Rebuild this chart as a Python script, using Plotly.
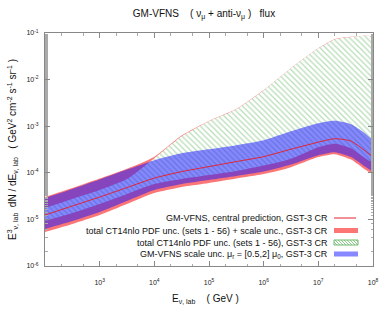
import plotly.graph_objects as go

# ---------------- data ----------------
energy_gev = [1e2, 3.16e2, 1e3, 3.16e3, 1e4, 3.16e4, 1e5, 3.16e5, 1e6, 3.16e6, 1e7, 2.0e7, 3.98e7, 1e8]

central = [1.24e-5, 1.94e-5, 3.02e-5, 4.82e-5, 7.70e-5, 1.06e-4, 1.36e-4, 1.74e-4, 2.22e-4, 3.21e-4, 4.54e-4, 5.40e-4, 4.77e-4, 2.17e-4]

scale_hi = [2.87e-5, 4.48e-5, 7.15e-5, 1.17e-4, 1.87e-4, 2.64e-4, 3.21e-4, 3.92e-4, 5.01e-4, 7.82e-4, 1.16e-3, 1.31e-3, 1.10e-3, 4.77e-4]
scale_lo = [6.23e-6, 9.24e-6, 1.44e-5, 2.48e-5, 4.26e-5, 5.73e-5, 6.98e-5, 8.50e-5, 1.06e-4, 1.50e-4, 2.39e-4, 2.77e-4, 2.17e-4, 1.11e-4]

pdf_hi = [1.75e-5, 2.74e-5, 4.26e-5, 7.33e-5, 2.06e-4, 6.11e-4, 1.28e-3, 2.31e-3, 5.90e-3, 1.75e-2, 4.68e-2, 7.29e-2, 8.25e-2, 8.05e-2]
pdf_lo = [9.24e-6, 1.37e-5, 2.14e-5, 3.50e-5, 5.73e-5, 7.33e-5, 8.93e-5, 1.09e-4, 1.43e-4, 2.01e-4, 3.55e-4, 4.22e-4, 3.38e-4, 1.74e-4]

total_hi = [3.02e-5, 4.70e-5, 7.52e-5, 1.22e-4, 2.22e-4, 6.35e-4, 1.30e-3, 2.33e-3, 5.95e-3, 1.76e-2, 4.70e-2, 7.31e-2, 8.27e-2, 8.07e-2]
total_lo = [5.37e-6, 7.97e-6, 1.24e-5, 2.14e-5, 3.67e-5, 4.94e-5, 6.02e-5, 7.52e-5, 9.38e-5, 1.32e-4, 2.17e-4, 2.51e-4, 1.92e-4, 9.86e-5]

x_tickvals = [1e3, 1e4, 1e5, 1e6, 1e7, 1e8]
x_ticktext = ["10<sup>3</sup>", "10<sup>4</sup>", "10<sup>5</sup>", "10<sup>6</sup>", "10<sup>7</sup>", "10<sup>8</sup>"]
y_tickvals = [1e-6, 1e-5, 1e-4, 1e-3, 1e-2, 1e-1]
y_ticktext = ["10<sup>-6</sup>", "10<sup>-5</sup>", "10<sup>-4</sup>", "10<sup>-3</sup>", "10<sup>-2</sup>", "10<sup>-1</sup>"]

legend_labels = [
    "GM-VFNS, central prediction, GST-3 CR",
    "total CT14nlo PDF unc. (sets 1 - 56) + scale unc., GST-3 CR",
    "total CT14nlo PDF unc. (sets 1 - 56), GST-3 CR",
    "GM-VFNS scale unc. \u03bc<sub>r</sub> = [0.5,2] \u03bc<sub>0</sub>, GST-3 CR",
]

# ---------------- styles ----------------
RED_FILL = "rgb(252,118,118)"
GREEN = "rgb(110,185,110)"
BLUE_FILL = "rgba(25,25,255,0.52)"
LINE_RED = "rgb(225,35,50)"
FONT = "Liberation Sans, Arial, sans-serif"
W, H = 390, 312
ML, MR, MT, MB = 45, 17, 33, 46
PW, PH = W - ML - MR, H - MT - MB


def band(lo, hi):
    xs = list(energy_gev) + list(energy_gev)[::-1]
    ys = list(hi) + list(lo)[::-1]
    return xs, ys


fig = go.Figure()

xs, ys = band(total_lo, total_hi)
fig.add_trace(go.Scatter(x=xs, y=ys, fill="toself", fillcolor=RED_FILL, mode="lines",
                         line=dict(width=0, shape="spline", smoothing=0.6), hoverinfo="skip", showlegend=False))

xs, ys = band(pdf_lo, pdf_hi)
fig.add_trace(go.Scatter(x=xs, y=ys, fill="toself", fillcolor="white", mode="lines",
                         fillpattern=dict(shape="\\", fgcolor=GREEN, bgcolor="white", size=4, solidity=0.3),
                         line=dict(width=0, shape="spline", smoothing=0.6), hoverinfo="skip", showlegend=False))

xs, ys = band(scale_lo, scale_hi)
fig.add_trace(go.Scatter(x=xs, y=ys, fill="toself", fillcolor=BLUE_FILL, mode="lines",
                         line=dict(width=0, shape="spline", smoothing=0.6), hoverinfo="skip", showlegend=False))

fig.add_trace(go.Scatter(x=energy_gev, y=central, mode="lines",
                         line=dict(color=LINE_RED, width=1, shape="spline", smoothing=0.6),
                         hoverinfo="skip", showlegend=False))


# ---------------- manual legend (text left of swatch) ----------------
def px2paper(px, py):
    return (px - ML) / PW, (H - MB - py) / PH


rows_py = [218, 230.5, 242.5, 254]
sw_x0, sw_x1 = 334, 358
text_x = 330
shapes = []
annotations = []
for i, (lab, py) in enumerate(zip(legend_labels, rows_py)):
    tx, ty = px2paper(text_x, py)
    annotations.append(dict(text=lab, x=tx, y=ty, xref="paper", yref="paper", xanchor="right",
                            yanchor="middle", showarrow=False, font=dict(size=9, color="#111", family=FONT)))
    x0, y0 = px2paper(sw_x0, py + 2.5)
    x1, y1 = px2paper(sw_x1, py - 2.5)
    if i == 0:
        lx0, ly = px2paper(sw_x0, py)
        lx1, _ = px2paper(sw_x1 - 2, py)
        shapes.append(dict(type="line", xref="paper", yref="paper", x0=lx0, x1=lx1, y0=ly, y1=ly,
                           line=dict(color=LINE_RED, width=1)))
    elif i == 1:
        shapes.append(dict(type="rect", xref="paper", yref="paper", x0=x0, x1=x1, y0=y0, y1=y1,
                           fillcolor=RED_FILL, line=dict(width=0)))
    elif i == 2:
        shapes.append(dict(type="rect", xref="paper", yref="paper", x0=x0, x1=x1, y0=y0, y1=y1,
                           fillcolor="white", line=dict(color=GREEN, width=1)))
        top, bot = py - 2.5, py + 2.5
        h = bot - top
        k = sw_x0 - h
        while k < sw_x1:
            ax, bx = k, k + h
            ay, by = top, bot
            if ax < sw_x0:
                ay = top + (sw_x0 - ax)
                ax = sw_x0
            if bx > sw_x1:
                by = bot - (bx - sw_x1)
                bx = sw_x1
            p0 = px2paper(ax, ay)
            p1 = px2paper(bx, by)
            shapes.append(dict(type="line", xref="paper", yref="paper", x0=p0[0], y0=p0[1], x1=p1[0], y1=p1[1],
                               line=dict(color=GREEN, width=0.8)))
            k += 3
    else:
        shapes.append(dict(type="rect", xref="paper", yref="paper", x0=x0, x1=x1, y0=y0, y1=y1,
                           fillcolor=BLUE_FILL, line=dict(width=0)))

# axis titles
xt = px2paper(205, 299)
annotations.append(dict(text="E<sub>\u03bd, lab</sub>\u00a0\u00a0\u00a0\u00a0( GeV )", x=xt[0], y=xt[1],
                        xref="paper", yref="paper", showarrow=False, xanchor="center", yanchor="middle",
                        font=dict(size=10, color="#111", family=FONT)))
yt = px2paper(12, 150)
annotations.append(dict(text="E<sup>3</sup><sub>\u03bd, lab</sub>\u00a0\u00a0dN / dE<sub>\u03bd, lab</sub>\u00a0\u00a0\u00a0( GeV<sup>2</sup> cm<sup>-2</sup> s<sup>-1</sup> sr<sup>-1</sup> )",
                        x=yt[0], y=yt[1], xref="paper", yref="paper", showarrow=False, textangle=-90,
                        xanchor="center", yanchor="middle", font=dict(size=10, color="#111", family=FONT)))

axis_common = dict(type="log", showgrid=False, zeroline=False, showline=True, linecolor="#888", linewidth=1,
                   mirror="allticks", ticks="inside", ticklen=5, tickcolor="#888",
                   minor=dict(ticks="inside", ticklen=2.5, tickcolor="#aaa", showgrid=False),
                   tickfont=dict(size=7, color="#222", family=FONT))

fig.update_layout(
    width=W, height=H,
    margin=dict(l=ML, r=MR, t=MT, b=MB),
    paper_bgcolor="white", plot_bgcolor="white",
    title=dict(text="GM-VFNS\u00a0\u00a0\u00a0\u00a0( \u03bd<sub>\u03bc</sub> + anti-\u03bd<sub>\u03bc</sub> )\u00a0\u00a0\u00a0flux",
               x=204 / W, xanchor="center", y=1 - 13 / H, yanchor="middle", yref="container",
               font=dict(size=10, color="#111", family=FONT)),
    xaxis=dict(range=[2, 8], tickvals=x_tickvals, ticktext=x_ticktext, ticklabelstandoff=10, **axis_common),
    yaxis=dict(range=[-6, -1], tickvals=y_tickvals, ticktext=y_ticktext, ticklabelstandoff=4, **axis_common),
    shapes=shapes,
    annotations=annotations,
    showlegend=False,
)

fig.write_html("out.html", config={"displayModeBar": False, "staticPlot": True},
               post_script="document.body.style.margin='0';document.body.style.overflow='hidden';")
